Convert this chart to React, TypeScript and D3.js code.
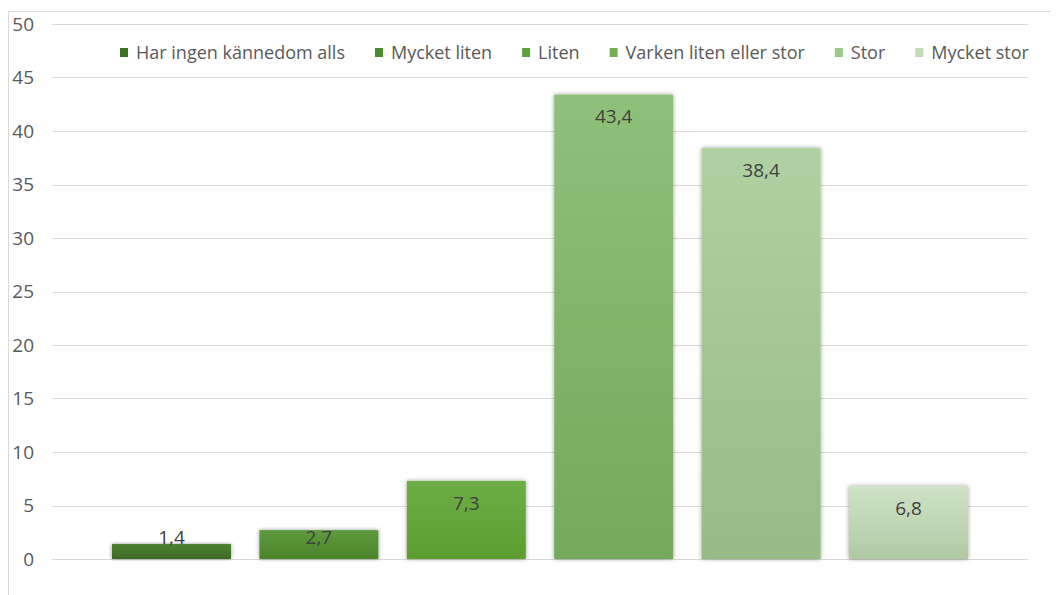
import React from "react";
import * as d3 from "d3";

const categories = [
  "Har ingen kännedom alls",
  "Mycket liten",
  "Liten",
  "Varken liten eller stor",
  "Stor",
  "Mycket stor",
];
const values = [1.4, 2.7, 7.3, 43.4, 38.4, 6.8];
const yTicks = [0, 5, 10, 15, 20, 25, 30, 35, 40, 45, 50];
const topColors = ["#4f8434", "#5e9a3e", "#6dae45", "#8fc07a", "#b0d1a1", "#cfe2c6"];
const bottomColors = ["#3c6a22", "#4b8529", "#5b9d2f", "#75a95c", "#96bb86", "#b0caa3"];
const legendColors = ["#3f7026", "#4e8a2f", "#5fa03a", "#73ae55", "#9cc68a", "#c3dbb8"];

const W = 1057;
const H = 595;
const plot = { left: 52, right: 1028, top: 24, bottom: 559 };
const FONT = "Open Sans, DejaVu Sans, sans-serif";
const fmt = (v: number) => String(v).replace(".", ",");

function measure(text: string, size: number) {
  const c = document.createElement("canvas").getContext("2d")!;
  c.font = `${size}px Open Sans`;
  return c.measureText(text).width;
}

export default function App() {
  const x = d3
    .scaleBand<string>()
    .domain(categories)
    .range([plot.left, plot.right])
    .paddingInner(0.193)
    .paddingOuter(0.407);
  const y = d3.scaleLinear().domain([0, 50]).range([plot.bottom, plot.top]);

  const legendSize = 18;
  let cursor = 120;
  const legendItems = categories.map((c, i) => {
    const item = { c, i, x: cursor };
    cursor += 16 + measure(c, legendSize) + 30;
    return item;
  });

  return (
    <svg width={W} height={H} style={{ position: "absolute", left: 0, top: 0, background: "#fff" }}>
      <defs>
        {categories.map((_, i) => (
          <linearGradient key={i} id={`g${i}`} x1="0" y1="0" x2="0" y2="1">
            <stop offset="0" stopColor={topColors[i]} />
            <stop offset="1" stopColor={bottomColors[i]} />
          </linearGradient>
        ))}
        <filter id="shadow" x="-10%" y="-10%" width="120%" height="120%">
          <feDropShadow dx="0" dy="0" stdDeviation="2.2" floodColor="#000" floodOpacity="0.4" />
        </filter>
      </defs>
      <rect x={0} y={0} width={W} height={H} fill="#fff" />
      <line x1={8.5} x2={8.5} y1={11} y2={H} stroke="#d9d9d9" />
      <line x1={8} x2={1050} y1={11.5} y2={11.5} stroke="#d9d9d9" />
      {yTicks.map((t) => (
        <g key={t}>
          <line x1={plot.left} x2={plot.right} y1={Math.round(y(t)) + 0.5} y2={Math.round(y(t)) + 0.5} stroke="#d9d9d9" strokeWidth={1} />
          <text x={34} y={y(t)} dy="0.36em" textAnchor="end" fontFamily={FONT} fontSize={19} fill="#595959">
            {t}
          </text>
        </g>
      ))}
      {categories.map((c, i) => {
        const v = values[i];
        const bx = x(c)!;
        const by = y(v);
        const ly = Math.min(by + 22, y(0) - 22);
        return (
          <g key={c}>
            <rect x={bx} y={by} width={x.bandwidth()} height={y(0) - by} fill={`url(#g${i})`} filter="url(#shadow)" />
            <text x={bx + x.bandwidth() / 2} y={ly} dy="0.36em" textAnchor="middle" fontFamily={FONT} fontSize={19} fill="#404040">
              {fmt(v)}
            </text>
          </g>
        );
      })}
      {legendItems.map(({ c, i, x: lx }) => (
        <g key={c}>
          <rect x={lx} y={48} width={8} height={9} fill={legendColors[i]} />
          <text x={lx + 16} y={53} dy="0.36em" fontFamily={FONT} fontSize={legendSize} fill="#595959">
            {c}
          </text>
        </g>
      ))}
    </svg>
  );
}
